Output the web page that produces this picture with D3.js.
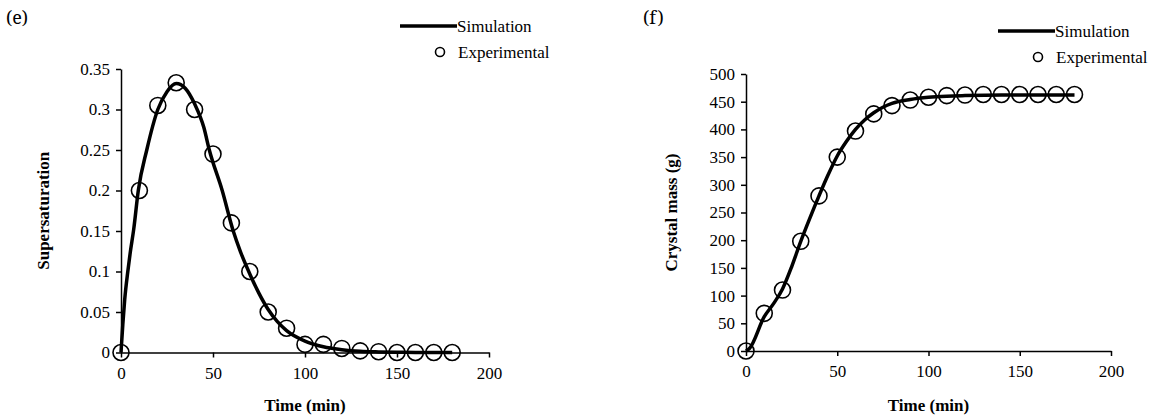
<!DOCTYPE html>
<html>
<head>
<meta charset="utf-8">
<script src="https://cdn.jsdelivr.net/npm/d3@7"></script>
<style>
  body { margin: 0; background: #fff; }
  svg text { font-family: "Liberation Serif", "Times New Roman", serif; fill: #000; }
</style>
</head>
<body>
<svg id="chart" width="1164" height="419"></svg>
<script>
/* Data */

// Experimental sampling times (min), same for both panels
var expTimes = [0, 10, 20, 30, 40, 50, 60, 70, 80, 90, 100, 110, 120, 130, 140, 150, 160, 170, 180];

// Panel (e): supersaturation
var expSuper = [0, 0.2, 0.305, 0.333, 0.3, 0.245, 0.16, 0.1, 0.05, 0.03, 0.01, 0.01, 0.005, 0.002, 0.001, 0, 0, 0, 0];
var simSuperTimes = [0, 1, 2, 3.7, 5, 6.9, 9.4, 14, 20, 25, 30, 35, 40, 45, 48, 55, 61, 65, 70, 75, 80, 85, 90, 100, 110, 120, 130, 140, 150, 160, 180];
var simSuper = [0, 0.035, 0.065, 0.1, 0.123, 0.152, 0.2, 0.25, 0.3, 0.322, 0.332, 0.326, 0.307, 0.278, 0.25, 0.2, 0.15, 0.124, 0.097, 0.073, 0.053, 0.038, 0.027, 0.014, 0.007, 0.0035, 0.0015, 0.0007, 0.0003, 0.0001, 0];

// Panel (f): crystal mass (g)
var expMass = [0, 68, 110, 198, 280, 350, 397, 428, 443, 453, 458, 461, 462, 463, 463, 463, 463, 463, 463];
var simMassTimes = [0, 2, 10, 15, 20, 25, 30, 35, 40, 45, 50, 55, 60, 65, 70, 75, 80, 90, 100, 110, 120, 140, 180];
var simMass = [0, 5, 62, 85, 112, 152, 198, 240, 280, 318, 352, 378, 400, 417, 430, 440, 447, 454, 458, 460, 461, 462, 462];

var xTicks = [0, 50, 100, 150, 200];
var superTicks = [0, 0.05, 0.1, 0.15, 0.2, 0.25, 0.3, 0.35];
var massTicks = [0, 50, 100, 150, 200, 250, 300, 350, 400, 450, 500];

var SERIF = '"Liberation Serif", "Times New Roman", serif';
var svg = d3.select("#chart");

function styleAxis(a) {
	a.attr("font-family", null).attr("font-size", null);
	a.select(".domain").attr("stroke", "#000").attr("stroke-width", 1.5);
	a.selectAll(".tick line").attr("stroke", "#000").attr("stroke-width", 1.5);
	a.selectAll("text").style("font-family", SERIF).style("font-size", "17px").attr("fill", "#000");
}

function drawPanel(opts) {
	var x = d3.scaleLinear().domain([0, 200]).range([opts.x0, opts.x1]);
	var y = d3.scaleLinear().domain([0, opts.yMax]).range([opts.yBottom, opts.yTop]);
	var g = svg.append("g");

	// axes
	var xAxis = d3.axisBottom(x).tickValues(xTicks).tickSize(5).tickSizeOuter(0).tickPadding(6);
	var yAxis = d3.axisLeft(y).tickValues(opts.yTicks).tickSize(5).tickSizeOuter(0).tickPadding(6)
		.tickFormat(opts.yFormat);

	g.append("g").attr("transform", "translate(0," + opts.yBottom + ")").call(xAxis)
		.call(styleAxis)
		.selectAll("text").attr("dy", "0.9em");
	g.append("g").attr("transform", "translate(" + opts.x0 + ",0)").call(yAxis)
		.call(styleAxis);

	// simulation line
	var line = d3.line()
		.x(function (d) { return x(d[0]); })
		.y(function (d) { return y(d[1]); })
		.curve(d3.curveMonotoneX);
	g.append("path")
		.datum(d3.zip(opts.simT, opts.simV))
		.attr("d", line)
		.attr("fill", "none")
		.attr("stroke", "#000")
		.attr("stroke-width", 3.5);

	// experimental points
	g.selectAll("circle.exp").data(d3.zip(expTimes, opts.exp)).enter()
		.append("circle").classed("exp", true)
		.attr("cx", function (d) { return x(d[0]); })
		.attr("cy", function (d) { return y(d[1]); })
		.attr("r", 8)
		.attr("fill", "none")
		.attr("stroke", "#000")
		.attr("stroke-width", 1.6);

	// axis titles
	g.append("text")
		.attr("x", (opts.x0 + opts.x1) / 2).attr("y", 411)
		.attr("text-anchor", "middle").style("font-size", "17px").attr("font-weight", "bold")
		.text("Time (min)");
	g.append("text")
		.attr("transform", "translate(" + opts.yTitleX + "," + ((opts.yTop + opts.yBottom) / 2) + ") rotate(-90)")
		.attr("text-anchor", "middle").style("font-size", "17px").attr("font-weight", "bold")
		.text(opts.yTitle);

	// panel label
	g.append("text").attr("x", opts.labelX).attr("y", 24)
		.style("font-family", '"Noto Serif", serif').style("font-size", "18px")
		.text(opts.label);

	// legend
	var lg = g.append("g").attr("transform", "translate(" + opts.legX + "," + opts.legY + ")");
	lg.append("line").attr("x1", 0).attr("x2", 57).attr("y1", 0).attr("y2", 0)
		.attr("stroke", "#000").attr("stroke-width", 3.5);
	lg.append("text").attr("x", 57).attr("y", 5.5).style("font-size", "17px").text("Simulation");
	lg.append("circle").attr("cx", 40).attr("cy", 26).attr("r", 4.5)
		.attr("fill", "none").attr("stroke", "#000").attr("stroke-width", 1.6);
	lg.append("text").attr("x", 58).attr("y", 31.5).style("font-size", "17px").text("Experimental");
}

drawPanel({
	x0: 121, x1: 489, yTop: 69, yBottom: 352.5, yMax: 0.35,
	yTicks: superTicks, yFormat: function (d) { return d === 0 ? "0" : String(+d.toFixed(2)); },
	simT: simSuperTimes, simV: simSuper, exp: expSuper,
	yTitle: "Supersaturation", yTitleX: 49,
	label: "(e)", labelX: 6,
	legX: 400, legY: 26
});

drawPanel({
	x0: 746, x1: 1111, yTop: 74, yBottom: 351, yMax: 500,
	yTicks: massTicks, yFormat: d3.format("d"),
	simT: simMassTimes, simV: simMass, exp: expMass,
	yTitle: "Crystal mass (g)", yTitleX: 677,
	label: "(f)", labelX: 643,
	legX: 998, legY: 31
});
</script>
</body>
</html>
